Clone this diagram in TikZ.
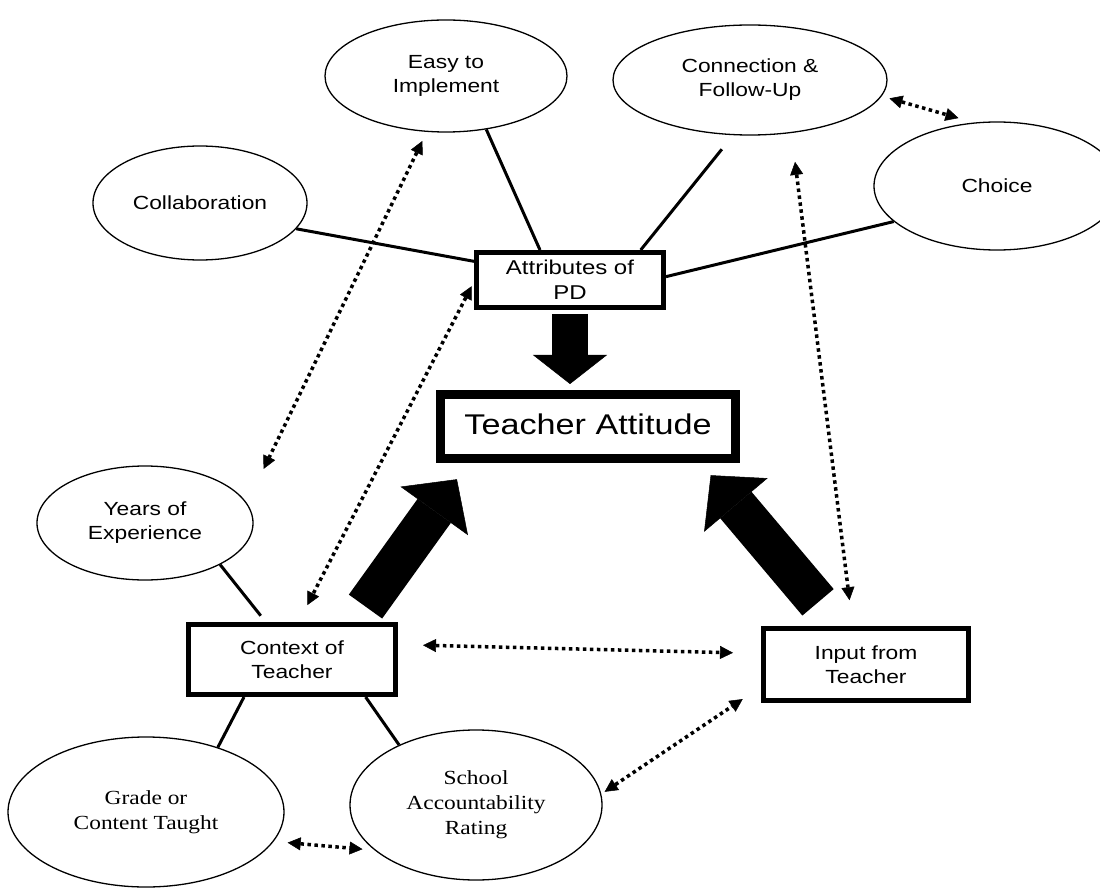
\documentclass[tikz,border=0pt]{standalone}
\usepackage{fontspec}
\setmainfont{Liberation Sans}[FakeStretch=1.2]
\newfontfamily\tnr{Liberation Serif}[FakeStretch=1.17]
\usetikzlibrary{shapes.geometric,arrows.meta,calc}
\begin{document}
\begin{tikzpicture}[x=1pt,y=-1pt,
  oval/.style={ellipse,draw,line width=1.3pt,inner sep=0pt,align=center,font=\fontsize{19}{24}\selectfont},
  soval/.style={oval,font=\tnr\fontsize{20}{25}\selectfont},
  sbox/.style={rectangle,draw,line width=5pt,inner sep=0pt,align=center,font=\fontsize{19}{24}\selectfont},
  link/.style={line width=3pt},
  dots/.style={line width=3.5pt,dash pattern=on 3.5pt off 3.5pt,
    {Triangle[length=13pt,width=13pt,line width=0.5pt]}-{Triangle[length=13pt,width=13pt,line width=0.5pt]}},
  big/.style={line width=41pt,-{Triangle[length=39pt,width=83pt,line width=0.5pt]}},
  downbig/.style={line width=36pt,-{Triangle[length=29pt,width=74pt,line width=0.5pt]}},
]
\useasboundingbox (0,0) rectangle (1100,890);

% ellipses
\node[oval,minimum width=242pt,minimum height=112pt] (easy) at (446,76) {Easy to\\Implement};
\node[oval,minimum width=274pt,minimum height=110pt] (conn) at (750,80) {Connection \&\\Follow-Up};
\node[oval,minimum width=246pt,minimum height=128pt] (choice) at (997,186) {Choice};
\node[oval,minimum width=214pt,minimum height=114pt] (collab) at (200,203) {Collaboration};
\node[oval,minimum width=216pt,minimum height=114pt] (years) at (145,523) {Years of\\Experience};
\node[soval,minimum width=276pt,minimum height=150pt] (grade) at (146,812) {Grade or\\Content Taught};
\node[soval,minimum width=252pt,minimum height=150pt] (school) at (476,805) {School\\Accountability\\Rating};

% boxes
\node[sbox,minimum width=187pt,minimum height=55pt,font=\fontsize{20}{25}\selectfont] (attr) at (570,280) {Attributes of\\PD};
\node[sbox,line width=9pt,minimum width=295pt,minimum height=64pt,font=\fontsize{28.5}{34}\selectfont] (tatt) at (588,426.5) {\raisebox{4pt}{Teacher Attitude}};
\node[sbox,minimum width=207pt,minimum height=70pt] (ctx) at (292,659.5) {Context of\\Teacher};
\node[sbox,minimum width=205pt,minimum height=72pt] (inp) at (866,664.5) {Input from\\Teacher};

% solid links
\draw[link] (collab.-15) -- (attr.169);
\draw[link] (easy.-53) -- (attr.135);
\draw[link,shorten <=18pt] (conn.-107) -- (attr.23);
\draw[link] (choice.-161) -- (attr.2);
\draw[link,shorten >=8pt] (years.-29) -- (ctx.125);
\draw[link] (ctx.-142) -- (grade.42);
\draw[link] (ctx.-27.5) -- (school.142);

% dotted double arrows
\draw[dots,shorten <=8pt,shorten >=16pt] (conn.-7.5) -- (choice.110);
\draw[dots,shorten <=10pt,shorten >=38pt] (easy.-109) -- (years.11);
\draw[dots,shorten <=5pt,shorten >=19pt] (attr.181) -- (ctx.80);
\draw[dots,shorten <=29pt,shorten >=26pt] (conn.-52) -- (inp.109);
\draw[dots,shorten <=25pt,shorten >=28pt] (ctx.8.6) -- (inp.174.6);
\draw[dots,shorten <=4pt,shorten >=22pt] (school.5) -- (inp.192.4);
\draw[dots,shorten <=14pt,shorten >=12pt] (grade.-13) -- (school.204.5);

% block arrows
\draw[downbig,shorten <=4pt,shorten >=6pt] (attr.south) -- (tatt.north -| attr.south);
\draw[big,shorten <=19pt,shorten >=20pt] (ctx.31.7) -- (tatt.197.9);
\draw[big,shorten <=31pt,shorten >=16pt] (inp.126) -- (tatt.-18.6);
\end{tikzpicture}
\end{document}
